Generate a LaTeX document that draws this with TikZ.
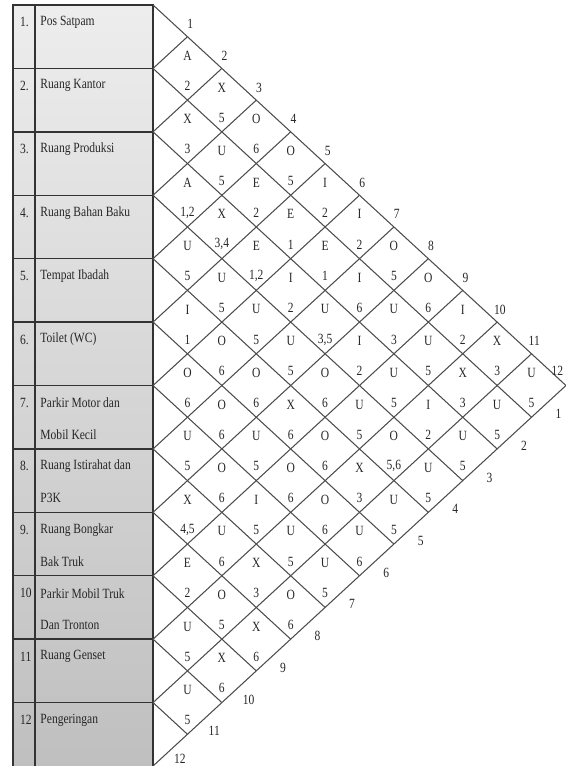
\documentclass[tikz,border=0pt]{standalone}
\usepackage{fontspec}
\setmainfont{Liberation Serif}[FakeStretch=0.82]
\usepackage{tikz}

\begin{document}
\begin{tikzpicture}[x=0.86cm,y=0.7925cm,
    cell/.style={font=\fontsize{10}{12}\selectfont, text=black!85, inner sep=0pt},
    dept/.style={cell, anchor=west},
    tbl/.style={line width=1pt, black!80},
    grid/.style={line width=0.75pt, black!70}]
\useasboundingbox (-4.448,0) rectangle (12,24.158);

% Left table - departments
\shade[top color=black!7, bottom color=black!25] (-4.07,0) rectangle (0,24);
\draw[tbl] (-4.07,0) -- (-4.07,24) -- (0,24) -- (0,0);
\draw[tbl] (-3.43,0) -- (-3.43,24);
\foreach \r in {1,...,11}
    \draw[tbl] (-4.07,24-2*\r) -- (0,24-2*\r);

% Department numbers and names
\foreach \k/\t in {1/1., 2/2., 3/3., 4/4., 5/5., 6/6., 7/7., 8/8., 9/9., 10/10, 11/11, 12/12}
    \node[dept] (no-\k) at (-3.87,25.45-2*\k) {\t};
\foreach \k/\name in {1/Pos Satpam, 2/Ruang Kantor, 3/Ruang Produksi,
    4/Ruang Bahan Baku, 5/Tempat Ibadah, 6/Toilet (WC), 7/Parkir Motor dan,
    8/Ruang Istirahat dan, 9/Ruang Bongkar, 10/Parkir Mobil Truk,
    11/Ruang Genset, 12/Pengeringan}
    \node[dept] (dept-\k) at (-3.28,25.45-2*\k) {\name};
\foreach \k/\name in {7/Mobil Kecil, 8/P3K, 9/Bak Truk, 10/Dan Tronton}
    \node[dept] (sub-\k) at (-3.28,24.45-2*\k) {\name};

% Diamond grid
\foreach \r in {0,...,11} {
    \draw[grid] (0,24-2*\r) -- (12-\r,12-\r);
    \draw[grid] (0,2*\r) -- (12-\r,12+\r);
}

% Relationship codes (letter above, reason below)
\foreach \i/\j/\l/\n in {
    1/2/A/2, 1/3/X/5, 1/4/O/6, 1/5/O/5, 1/6/I/2, 1/7/I/2, 1/8/O/5, 1/9/O/6,
    1/10/I/2, 1/11/X/3, 1/12/U/5,
    2/3/X/3, 2/4/U/5, 2/5/E/2, 2/6/E/1, 2/7/E/1, 2/8/I/6, 2/9/U/3, 2/10/U/5,
    2/11/X/3, 2/12/U/5,
    3/4/A/{1,2}, 3/5/X/{3,4}, 3/6/E/{1,2}, 3/7/I/2, 3/8/U/{3,5}, 3/9/I/2,
    3/10/U/5, 3/11/I/2, 3/12/U/5,
    4/5/U/5, 4/6/U/5, 4/7/U/5, 4/8/U/5, 4/9/O/6, 4/10/U/5, 4/11/O/{5,6}, 4/12/U/5,
    5/6/I/1, 5/7/O/6, 5/8/O/6, 5/9/X/6, 5/10/O/6, 5/11/X/3, 5/12/U/5,
    6/7/O/6, 6/8/O/6, 6/9/U/5, 6/10/O/6, 6/11/O/6, 6/12/U/6,
    7/8/U/5, 7/9/O/6, 7/10/I/5, 7/11/U/5, 7/12/U/5,
    8/9/X/{4,5}, 8/10/U/6, 8/11/X/3, 8/12/O/6,
    9/10/E/2, 9/11/O/5, 9/12/X/6,
    10/11/U/5, 10/12/X/6,
    11/12/U/5} {
    \node[cell] (l-\i-\j) at (\j-\i,25.4-\i-\j) {\l};
    \node[cell] (n-\i-\j) at (\j-\i,24.45-\i-\j) {\n};
}

% Column numbers along the edges
\foreach \k in {1,...,11}
    \node[cell] (top-\k) at (\k+0.08,24.4-\k) {\k};
\node[cell] (top-12) at (11.75,12.45) {12};
\foreach \k in {1,...,11}
    \node[cell] (bot-\k) at (12.78-\k,12.1-\k) {\k};
\node[cell] (bot-12) at (0.78,0.24) {12};

\end{tikzpicture}
\end{document}
